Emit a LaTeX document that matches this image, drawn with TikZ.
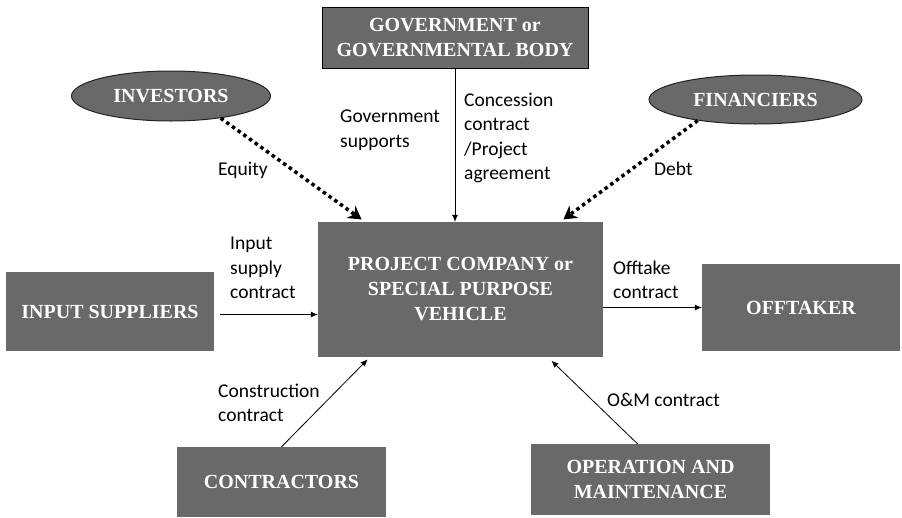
\documentclass[tikz,border=0pt]{standalone}
\usepackage{fontspec}
\setmainfont{Liberation Serif}
\newfontfamily\labelfont{Carlito}
\usepackage{xcolor}
\definecolor{box_gray}{RGB}{105,105,105}
\definecolor{edge_gray}{RGB}{35,35,35}
\usepackage{tikz}
\usetikzlibrary{arrows.meta,shapes.geometric}

\tikzset{
  party/.style={fill=box_gray, text=white, inner sep=0pt, align=center,
    font=\fontsize{20}{25}\selectfont\bfseries},
  funder/.style={party, ellipse, draw=edge_gray, line width=1pt},
  deal/.style={draw=black, line width=0.8pt, -{Latex[length=7pt,width=6pt]}},
  flow/.style={draw=black, line width=3.5pt, dash pattern=on 3.5pt off 3.5pt,
    -{Stealth[length=13pt,width=15pt]}},
  note/.style={inner sep=0pt, anchor=west, align=left,
    font=\labelfont\fontsize{19.5}{24.5}\selectfont}
}

\begin{document}
\begin{tikzpicture}[x=1pt,y=-1pt]
\useasboundingbox (0,0) rectangle (902,517);

\node[party, draw=black, line width=0.8pt, minimum width=266pt, minimum height=61pt] (gov) at (455,37.5) {GOVERNMENT or\\GOVERNMENTAL BODY};
\node[funder, minimum width=199pt, minimum height=50pt] (investors) at (171,96) {INVESTORS};
\node[funder, minimum width=213pt, minimum height=49pt] (financiers) at (755.5,99.5) {FINANCIERS};

\node[party, minimum width=285pt, minimum height=135pt] (spv) at (460.5,289.5) {PROJECT COMPANY or\\SPECIAL PURPOSE\\VEHICLE};
\node[party, minimum width=208pt, minimum height=79pt] (suppliers) at (110,311.5) {INPUT SUPPLIERS};
\node[party, minimum width=198pt, minimum height=87pt] (offtaker) at (801,307.5) {OFFTAKER};

\node[party, minimum width=209pt, minimum height=70pt] (contractors) at (281.5,482) {CONTRACTORS};
\node[party, minimum width=239pt, minimum height=71pt] (om) at (650.5,479.5) {OPERATION AND\\MAINTENANCE};

\draw[flow, shorten >=4pt] (investors.-24) -- ([xshift=47pt]spv.north west);
\draw[flow, shorten >=4pt] (financiers.200) -- ([xshift=-43pt]spv.north east);
\draw[deal] (gov.south) -- (gov.south |- spv.north);
\draw[deal, shorten <=6pt] ([yshift=-3pt]suppliers.east) -- ([yshift=-3pt]suppliers.east -| spv.west);
\draw[deal] (offtaker.west -| spv.east) -- (offtaker.west);
\draw[deal, shorten >=3pt] (contractors.north) -- ([xshift=52pt]spv.south west);
\draw[deal, shorten >=5pt] ([xshift=-13pt]om.north) -- ([xshift=230pt]spv.south west);

\node[note] (equity) at (218,170) {Equity};
\node[note] (debt) at (654,169) {Debt};
\node[note] (support) at (340,130) {Government\\supports};
\node[note] (concession) at (464,138) {Concession\\contract\\/Project\\agreement};
\node[note] (supply) at (230,268) {Input\\supply\\contract};
\node[note] (offtake) at (613,280) {Offtake\\contract};
\node[note] (build) at (218,403) {Construction\\contract};
\node[note] (omdeal) at (607,400) {O\&M contract};

\end{tikzpicture}
\end{document}
